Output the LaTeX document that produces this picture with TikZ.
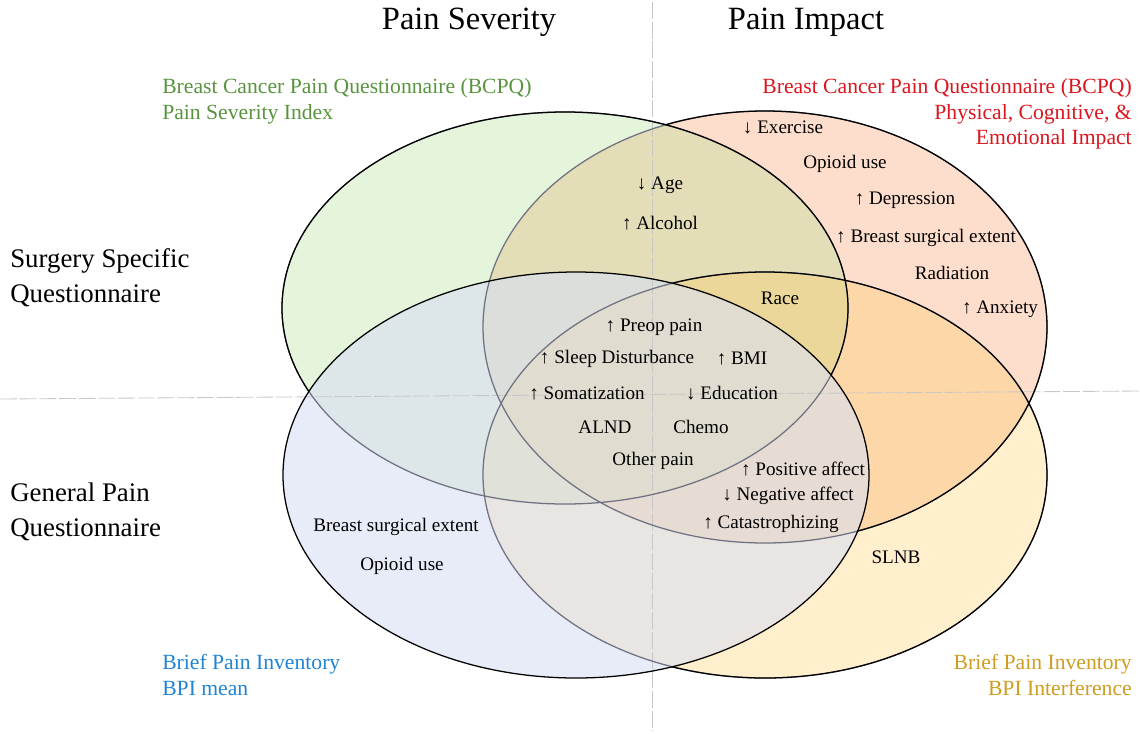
\documentclass[tikz,border=0pt]{standalone}
\usepackage{fontspec}
\setmainfont{Liberation Serif}
\newfontfamily\factorfont{Liberation Serif}
\definecolor{sevfill}{RGB}{168,222,138}
\definecolor{impfill}{RGB}{248,145,85}
\definecolor{bpifill}{RGB}{217,223,243}
\definecolor{intfill}{RGB}{255,202,85}
\definecolor{ringshade}{RGB}{112,114,130}
\definecolor{sevtext}{RGB}{88,148,62}
\definecolor{imptext}{RGB}{218,22,30}
\definecolor{bpitext}{RGB}{32,132,212}
\definecolor{inttext}{RGB}{206,156,32}

\begin{document}
\begin{tikzpicture}[
  x=0.025cm,
  y=-0.025cm,
  ring/.style={draw=black,line width=0.9pt},
  hiddenring/.style={draw=ringshade,line width=0.9pt},
  guide/.style={draw=black!22,line width=0.6pt,dash pattern=on 12pt off 2pt},
  heading/.style={font=\fontsize{23.1}{28}\selectfont,inner sep=0pt},
  rowlabel/.style={font=\fontsize{19.1}{24.9}\selectfont,align=left,anchor=west,inner sep=0pt},
  source/.style={font=\fontsize{15.4}{18.3}\selectfont,inner sep=0pt},
  item/.style={font=\factorfont\fontsize{13.6}{16}\selectfont,inner sep=0pt}
]
  \useasboundingbox (0,0) rectangle (1140,733);

  % Centres of the four questionnaire ellipses (pixel-like units, y downwards).
  \coordinate (sevC) at (565,308);
  \coordinate (impC) at (765,327);
  \coordinate (bpiC) at (576,475);
  \coordinate (intC) at (765,475);

  % Translucent fills, bottom to top.
  \path[fill=impfill,fill opacity=0.3] (impC) ellipse [x radius=282,y radius=216];
  \path[fill=sevfill,fill opacity=0.3] (sevC) ellipse [x radius=283,y radius=196];
  \path[fill=intfill,fill opacity=0.3] (intC) ellipse [x radius=282,y radius=203];
  \path[fill=bpifill,fill opacity=0.6] (bpiC) ellipse [x radius=293,y radius=203];

  % Quadrant guides.
  \draw[guide] (652,2) -- (652,731);
  \draw[guide] (0,399) -- (1140,391);

  % Outlines look greyed where the green or blue fill lies over them.
  \draw[hiddenring] (impC) ellipse [x radius=282,y radius=216];
  \draw[hiddenring] (intC) ellipse [x radius=282,y radius=203];
  \draw[hiddenring] (sevC) ellipse [x radius=283,y radius=196];
  \begin{scope}[even odd rule]
    \clip (0,0) rectangle (1140,733) (bpiC) ellipse [x radius=293,y radius=203];
    \draw[ring] (intC) ellipse [x radius=282,y radius=203];
    \draw[ring] (sevC) ellipse [x radius=283,y radius=196];
    \begin{scope}
      \clip (0,0) rectangle (1140,733) (sevC) ellipse [x radius=283,y radius=196];
      \draw[ring] (impC) ellipse [x radius=282,y radius=216];
    \end{scope}
  \end{scope}
  \draw[ring] (bpiC) ellipse [x radius=293,y radius=203];

  % Column and row headings.
  \node[heading] (sevhead) at (469,22) {Pain Severity};
  \node[heading] (imphead) at (806,22) {Pain Impact};
  \node[rowlabel] (surgrow) at (10,278) {Surgery Specific\\Questionnaire};
  \node[rowlabel] (genrow) at (10,512) {General Pain\\Questionnaire};

  % Source of each ellipse.
  \node[source,text=sevtext,align=left,anchor=west] (sevsrc) at (162,101)
    {Breast Cancer Pain Questionnaire (BCPQ)\\Pain Severity Index};
  \node[source,text=imptext,align=right,anchor=east] (impsrc) at (1132,114)
    {Breast Cancer Pain Questionnaire (BCPQ)\\Physical, Cognitive, \&\hspace*{0.25em}\\Emotional Impact};
  \node[source,text=bpitext,align=left,anchor=west] (bpisrc) at (162,675)
    {Brief Pain Inventory\\BPI mean};
  \node[source,text=inttext,align=right,anchor=east] (intsrc) at (1132,675)
    {Brief Pain Inventory\\BPI Interference};

  % Factors placed in their regions.
  \foreach \nm/\px/\py/\txt in {
      exercise/783/127/{↓ Exercise},
      opioidimp/845/164/{Opioid use},
      depression/905/200/{↑ Depression},
      surgimp/926/238/{↑ Breast surgical extent},
      radiation/952/273/{Radiation},
      anxiety/1000/309/{↑ Anxiety},
      age/660/185/{↓ Age},
      alcohol/660/223/{↑ Alcohol},
      race/780/298/{Race},
      preop/654/327/{↑ Preop pain},
      sleep/617/359/{↑ Sleep Disturbance},
      bmi/742/359/{↑ BMI},
      somat/587/393/{↑ Somatization},
      educ/732/393/{↓ Education},
      alnd/605/427/{ALND},
      chemo/701/427/{Chemo},
      otherpain/653/461/{Other pain},
      posaff/803/469/{↑ Positive affect},
      negaff/788/496/{↓ Negative affect},
      catast/771/524/{↑ Catastrophizing},
      surgbpi/396/527/{Breast surgical extent},
      opioidbpi/402/566/{Opioid use},
      slnb/896/557/{SLNB}} {
    \node[item] (\nm) at (\px,\py) {\txt};
  }
\end{tikzpicture}
\end{document}
